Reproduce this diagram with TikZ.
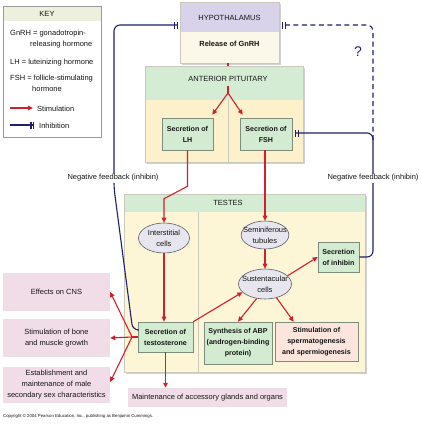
\documentclass[tikz,border=0pt]{standalone}
\usepackage{fontspec}
\setmainfont{Liberation Sans}
\usetikzlibrary{arrows.meta,shapes.geometric,calc,shadows}
\definecolor{hyphead}{HTML}{D8D2EA}
\definecolor{hypbody}{HTML}{FBF8EA}
\definecolor{greenhead}{HTML}{D4ECD4}
\definecolor{pitbody}{HTML}{FCF1CB}
\definecolor{testbody}{HTML}{FCF5D6}
\definecolor{boxgreen}{HTML}{D3EBD1}
\definecolor{boxedge}{HTML}{7E8C7C}
\definecolor{cellfill}{HTML}{E7E6EF}
\definecolor{celledge}{HTML}{5C5C6C}
\definecolor{effpink}{HTML}{F1DDE7}
\definecolor{stimpink}{HTML}{FCE5DD}
\definecolor{stimred}{HTML}{D21F2F}
\definecolor{inhnavy}{HTML}{1E1F6E}
\definecolor{regedge}{HTML}{C9C9BC}
\definecolor{keyedge}{HTML}{9A9A9A}
\definecolor{keyhead}{HTML}{EEF0DE}
\definecolor{ink}{HTML}{151515}
\begin{document}
\begin{tikzpicture}[x=1pt,y=-1pt,
  txt/.style={font=\fontsize{7.5}{11}\selectfont, align=center, inner sep=0pt, text=ink},
  bold/.style={font=\bfseries\fontsize{7.1}{11}\selectfont, align=center, inner sep=0pt, text=ink},
  greenbox/.style={bold, draw=boxedge, fill=boxgreen, line width=0.6pt},
  cell/.style={ellipse, txt, draw=celledge, fill=cellfill, line width=0.6pt, inner xsep=-5pt, inner ysep=0pt},
  effect/.style={txt, fill=effpink},
  headfill/.style 2 args={path picture={\fill[#2] (path picture bounding box.north west) rectangle ([yshift=-#1]path picture bounding box.north east);}},
  region/.style={draw=regedge, line width=0.5pt, drop shadow={shadow xshift=1.8pt,shadow yshift=-1.8pt,fill=black!40,opacity=.45}},
  stim/.style={draw=stimred, line width=1.1pt, -{Triangle[length=5pt,width=4.6pt]}},
  stimline/.style={draw=stimred, line width=1.1pt},
  inhib/.style={draw=inhnavy, line width=1.1pt, -{Bar[width=7pt,line width=1.1pt,sep=1.4pt]Bar[width=7pt,line width=1.1pt]}},
  keytext/.style={txt, anchor=base west},
]
\useasboundingbox[fill=white] (0,0) rectangle (422,424);

% ---------- KEY ----------
\node[draw=keyedge, fill=white, line width=0.5pt, headfill={15pt}{keyhead}, minimum width=98pt, minimum height=131pt] (key) at (52,71.5) {};
\node[txt] (keytitle) at (47,14) {KEY};
\node[keytext] (k1) at (10,35) {GnRH = gonadotropin-};
\node[keytext] (k2) at (30,46) {releasing hormone};
\node[keytext] (k3) at (10,64) {LH = luteinizing hormone};
\node[keytext] (k4) at (10,80) {FSH = follicle-stimulating};
\node[keytext] (k5) at (32,91) {hormone};
\node[keytext] (k6) at (37,111) {Stimulation};
\node[keytext] (k7) at (39,128) {Inhibition};
\coordinate (ks1) at (10,108); \coordinate (ks2) at (33,108);
\coordinate (ki1) at (10,125); \coordinate (ki2) at (34,125);
\draw[stim] (ks1) -- (ks2);
\draw[inhib] (ki1) -- (ki2);

% ---------- REGIONS ----------
\node[region, fill=hypbody, headfill={30pt}{hyphead}, minimum width=99pt, minimum height=61pt] (hyp) at (229.5,32.5) {};
\coordinate (split) at (228,93);
\coordinate (split0) at (228,86);
\draw[stimline] (hyp.south -| split) -- (split |- 0,67);
\node[region, fill=pitbody, headfill={34pt}{greenhead}, minimum width=158pt, minimum height=96pt] (pit) at (224,114) {};
\node[region, fill=testbody, headfill={18pt}{greenhead}, minimum width=241pt, minimum height=178pt] (testes) at (244.5,283) {};
\draw[regedge, line width=0.6pt] (228,100) -- (228,162);
\draw[regedge, line width=0.6pt] (198,212) -- (198,372);

\node[txt] (hyptitle) at (229.5,18) {HYPOTHALAMUS};
\node[bold, font=\bfseries\fontsize{7.4}{11}\selectfont] (gnrh) at (229.5,44) {Release of GnRH};
\node[txt] (pittitle) at (228,79) {ANTERIOR PITUITARY};
\node[txt] (testtitle) at (228,203) {TESTES};

% ---------- BOXES ----------
\node[greenbox, minimum width=51pt, minimum height=32pt] (lh) at (187.5,134) {Secretion of\\LH};
\node[greenbox, minimum width=52pt, minimum height=32pt] (fsh) at (266,134) {Secretion of\\FSH};
\node[cell, minimum width=51pt, minimum height=30pt] (inter) at (164,238) {Interstitial\\cells};
\node[cell, minimum width=47pt, minimum height=28pt] (semi) at (265,235) {Seminiferous\\tubules};
\node[cell, minimum width=53pt, minimum height=30pt] (sust) at (265,284) {Sustentacular\\cells};
\node[greenbox, minimum width=41pt, minimum height=30pt] (inhibin) at (338.5,257) {Secretion\\of inhibin};
\node[greenbox, minimum width=55pt, minimum height=30pt] (testo) at (165.5,337) {Secretion of\\testosterone};
\node[greenbox, minimum width=68pt, minimum height=42pt] (abp) at (238,343) {Synthesis of ABP\\(androgen-binding\\protein)};
\node[bold, draw=boxedge, fill=stimpink, line width=0.6pt, minimum width=83pt, minimum height=39pt] (sperm) at (316.5,341.5) {Stimulation of\\spermatogenesis\\and spermiogenesis};

\node[effect, minimum width=107pt, minimum height=38pt] (cns) at (56.5,292) {Effects on CNS};
\node[effect, minimum width=107pt, minimum height=38pt] (bone) at (56.5,338) {Stimulation of bone\\and muscle growth};
\node[effect, minimum width=107pt, minimum height=36pt] (sex) at (56.5,385) {Establishment and\\maintenance of male\\secondary sex characteristics};
\node[effect, minimum width=159pt, minimum height=19pt] (maint) at (207.5,397.5) {Maintenance of accessory glands and organs};

% ---------- STIMULATION ----------
\draw[stimline] (split0) -- (split);
\draw[stim] (split) -- ($(lh.north east)+(-1,-3)$);
\draw[stim] (split) -- ($(fsh.north west)+(3,-3)$);
\draw[stim] (lh.south) -- ++(0,36) -- ($(inter.north)+(0,-24)$) -- (inter.north);
\draw[stim] (semi.north |- fsh.south) -- (semi.north);
\draw[stim] (semi.south) -- (sust.north);
\draw[stim] (inter.south) -- (inter.south |- testo.north);
\draw[stim] (testo.north east) -- (sust.200);
\draw[stim] (sust.20) -- (inhibin.west);
\draw[stim] (sust.240) -- (abp.north);
\draw[stim] (sust.310) -- ($(sperm.north west)+(19,0)$);
\draw[stim] (testo.south) -- (testo.south |- maint.north);
\coordinate (fan) at (132,337);
\draw[stimline] (testo.west) -- (fan);
\draw[stim] (fan) -- (cns.east);
\draw[stim] (fan) -- (bone.east);
\draw[stim] (fan) -- ($(sex.east)+(0,-3)$);

% ---------- INHIBITION ----------
\draw[inhib, rounded corners=6pt, shorten >=2pt] ($(testo.west)+(0,-7)$) -- ++(-5,0) -- (114,188) -- (114,25) -- ($(hyp.west)+(0,-7.5)$);
\draw[inhib, rounded corners=6pt, shorten >=3pt] (inhibin.east) -- (373,257) -- (373,133) -- ($(fsh.east)+(0,-1)$);
\coordinate (jn) at (373,140);
\draw[inhib, dash pattern=on 5pt off 3.5pt, rounded corners=6pt, shorten >=3pt] (jn) -- (373,25) -- ($(hyp.east)+(0,-7.5)$);

\node[txt, fill=white, inner sep=1pt] (nfl) at (113,178) {Negative feedback (inhibin)};
\node[txt, fill=white, inner sep=1pt] (nfr) at (373,178) {Negative feedback (inhibin)};
\node[font=\fontsize{14}{14}\selectfont, text=inhnavy, inner sep=0pt] (q) at (358,52) {?};

\node[anchor=west, font=\fontsize{4.3}{5}\selectfont, inner sep=0pt, text=ink] (copy) at (3,416) {Copyright © 2004 Pearson Education, Inc., publishing as Benjamin Cummings.};
\end{tikzpicture}
\end{document}
